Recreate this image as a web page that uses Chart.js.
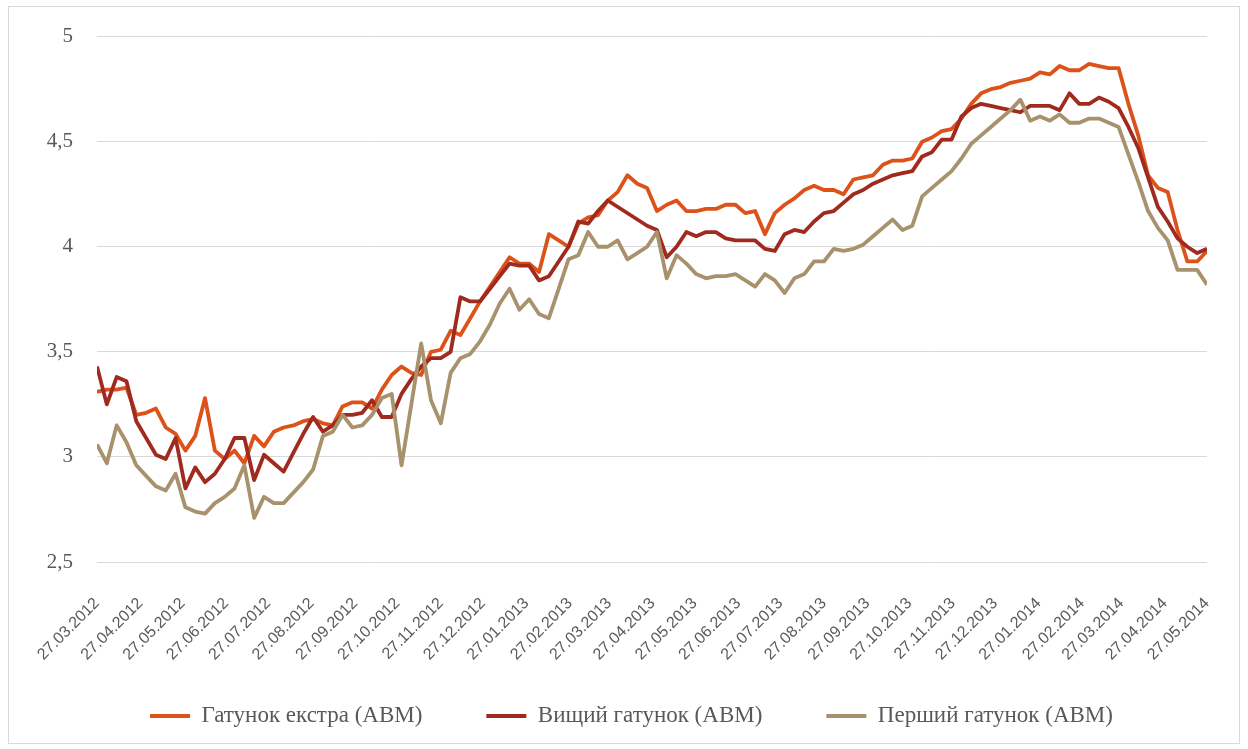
<!DOCTYPE html>
<html><head><meta charset="utf-8">
<script src="https://cdn.jsdelivr.net/npm/chart.js@4.4.1/dist/chart.umd.min.js"></script>
<style>
html,body{margin:0;padding:0;background:#fff;}
#wrap{position:absolute;left:0;top:0;width:1248px;height:749px;}
#frame{position:absolute;left:8px;top:6px;width:1232px;height:738px;border:1px solid #d9d9d9;box-sizing:border-box;}
canvas{position:absolute;left:0;top:0;}
</style></head><body>
<div id="wrap"><div id="frame"></div><canvas id="c" width="1248" height="749"></canvas></div>
<script>
const seriesNames = ['Гатунок екстра (АВМ)', 'Вищий гатунок (АВМ)', 'Перший гатунок (АВМ)'];
const startDate = '27.03.2012';
const tickLabels = ['27.03.2012','27.04.2012','27.05.2012','27.06.2012','27.07.2012','27.08.2012','27.09.2012','27.10.2012','27.11.2012','27.12.2012','27.01.2013','27.02.2013','27.03.2013','27.04.2013','27.05.2013','27.06.2013','27.07.2013','27.08.2013','27.09.2013','27.10.2013','27.11.2013','27.12.2013','27.01.2014','27.02.2014','27.03.2014','27.04.2014','27.05.2014'];

const extra = [3.31,3.32,3.32,3.33,3.20,3.21,3.23,3.14,3.11,3.03,3.10,3.28,3.03,2.99,3.03,2.97,3.10,3.05,3.12,3.14,
3.15,3.17,3.18,3.16,3.15,3.24,3.26,3.26,3.23,3.32,3.39,3.43,3.40,3.39,3.50,3.51,3.60,3.58,3.66,3.74,
3.81,3.88,3.95,3.92,3.92,3.88,4.06,4.03,4.00,4.11,4.14,4.15,4.22,4.26,4.34,4.30,4.28,4.17,4.20,4.22,
4.17,4.17,4.18,4.18,4.20,4.20,4.16,4.17,4.06,4.16,4.20,4.23,4.27,4.29,4.27,4.27,4.25,4.32,4.33,4.34,
4.39,4.41,4.41,4.42,4.50,4.52,4.55,4.56,4.61,4.68,4.73,4.75,4.76,4.78,4.79,4.80,4.83,4.82,4.86,4.84,
4.84,4.87,4.86,4.85,4.85,4.68,4.53,4.34,4.28,4.26,4.08,3.93,3.93,3.98];

const higher = [3.43,3.25,3.38,3.36,3.17,3.09,3.01,2.99,3.09,2.85,2.95,2.88,2.92,2.99,3.09,3.09,2.89,3.01,2.97,2.93,
3.02,3.11,3.19,3.12,3.15,3.20,3.20,3.21,3.27,3.19,3.19,3.30,3.37,3.43,3.47,3.47,3.50,3.76,3.74,3.74,
3.80,3.86,3.92,3.91,3.91,3.84,3.86,3.93,4.00,4.12,4.11,4.17,4.22,null,null,null,4.10,4.08,3.95,4.00,
4.07,4.05,4.07,4.07,4.04,4.03,4.03,4.03,3.99,3.98,4.06,4.08,4.07,4.12,4.16,4.17,4.21,4.25,4.27,4.30,
4.32,4.34,4.35,4.36,4.43,4.45,4.51,4.51,4.62,4.66,4.68,4.67,4.66,4.65,4.64,4.67,4.67,4.67,4.65,4.73,
4.68,4.68,4.71,4.69,4.66,4.57,4.47,4.33,4.19,4.12,4.04,4.00,3.97,3.99];

const first = [3.06,2.97,3.15,3.07,2.96,2.91,2.86,2.84,2.92,2.76,2.74,2.73,2.78,2.81,2.85,2.96,2.71,2.81,2.78,2.78,
2.83,2.88,2.94,3.10,3.12,3.20,3.14,3.15,3.20,3.28,3.30,2.96,3.25,3.54,3.27,3.16,3.40,3.47,3.49,3.55,
3.63,3.73,3.80,3.70,3.75,3.68,3.66,3.80,3.94,3.96,4.07,4.00,4.00,4.03,3.94,3.97,4.00,4.07,3.85,3.96,
3.92,3.87,3.85,3.86,3.86,3.87,3.84,3.81,3.87,3.84,3.78,3.85,3.87,3.93,3.93,3.99,3.98,3.99,4.01,4.05,
4.09,4.13,4.08,4.10,4.24,4.28,4.32,4.36,4.42,4.49,4.53,4.57,4.61,4.65,4.70,4.60,4.62,4.60,4.63,4.59,
4.59,4.61,4.61,4.59,4.57,4.44,4.31,4.17,4.09,4.03,3.89,3.89,3.89,3.82];

const colors = ['#dc5218', '#a12a1f', '#a8916d'];

function dayOf(s){ const [d,m,y] = s.split('.').map(Number); return Date.UTC(y, m-1, d)/864e5; }
const base = dayOf(startDate);
const tickDays = tickLabels.map(s => dayOf(s) - base);
const weekDays = extra.map((_, i) => i * 7);
const toPts = arr => arr.map((v, i) => ({x: weekDays[i], y: v}));

const serif = "'Liberation Serif', serif";
const sans = "'Liberation Sans', sans-serif";

const LEGEND_PAD = 64;
const legendAdjust = {
  id: 'legendAdjust',
  beforeLayout(chart) {
    const lg = chart.legend;
    if (lg && !lg._patched) {
      const fit = lg.fit;
      lg.fit = function() { fit.call(this); this.height = 63; };
      lg._patched = true;
    }
  },
  afterLayout(chart) {
    const lg = chart.legend;
    if (lg) {
      const dy = 716 - (lg.top + LEGEND_PAD + 11.5);
      lg.top += dy; lg.left += 28; lg.right += 28;
      lg.bottom = chart.height;
      lg.height = lg.bottom - lg.top;
    }
  }
};

new Chart(document.getElementById('c'), {
  type: 'line',
  data: {
    datasets: [extra, higher, first].map((arr, k) => ({
      label: seriesNames[k],
      data: toPts(arr),
      borderColor: colors[k],
      backgroundColor: colors[k],
      borderWidth: 3.8,
      pointRadius: 0,
      tension: 0,
      spanGaps: true,
      borderJoinStyle: 'round',
      order: 3 - k
    }))
  },
  plugins: [legendAdjust],
  options: {
    responsive: false,
    devicePixelRatio: 1,
    animation: false,
    layout: { padding: { left: 0, right: 41, top: 35, bottom: 0 } },
    plugins: {
      tooltip: { enabled: false },
      legend: {
        position: 'bottom',
        labels: {
          font: { family: serif, size: 23 },
          color: '#595959',
          boxWidth: 40,
          boxHeight: 4,
          padding: LEGEND_PAD,
          generateLabels: chart => chart.data.datasets.map((ds, i) => ({
            text: ds.label, fillStyle: ds.borderColor, strokeStyle: ds.borderColor,
            lineWidth: 0, hidden: false, datasetIndex: i, fontColor: '#595959'
          }))
        }
      }
    },
    scales: {
      x: {
        type: 'linear',
        min: 0,
        max: tickDays[tickDays.length - 1],
        afterBuildTicks: axis => { axis.ticks = tickDays.map(v => ({value: v})); },
        afterFit: s => { s.height = 124; },
        grid: { display: false },
        border: { display: false },
        ticks: {
          autoSkip: false,
          maxRotation: 45, minRotation: 45,
          padding: 24,
          color: '#595959',
          font: { family: sans, size: 16 },
          callback: (v, i) => tickLabels[i]
        }
      },
      y: {
        min: 2.5, max: 5,
        afterFit: s => { s.width = 97; },
        border: { display: false },
        grid: { color: '#d9d9d9', lineWidth: 1, drawTicks: false },
        ticks: {
          stepSize: 0.5,
          padding: 24,
          color: '#595959',
          font: { family: serif, size: 21 },
          callback: v => String(v).replace('.', ',')
        }
      }
    }
  }
});
</script>
</body></html>
